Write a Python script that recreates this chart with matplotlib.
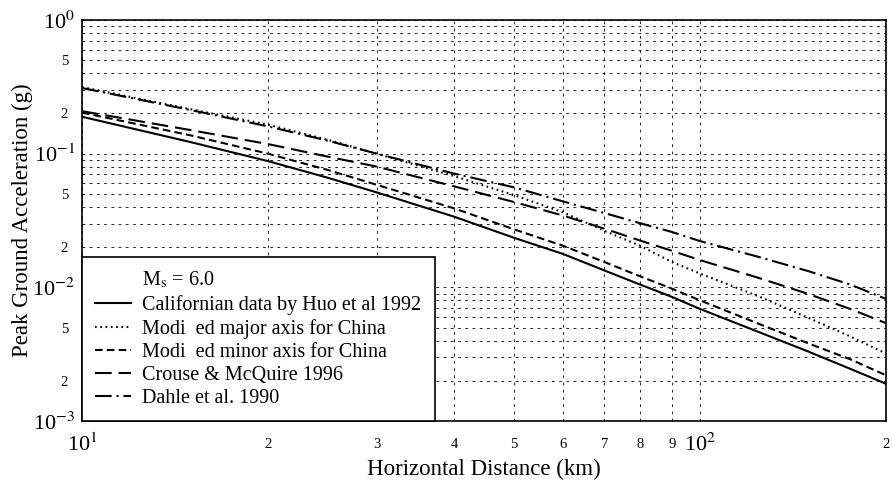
import matplotlib
matplotlib.use("Agg")
import matplotlib.pyplot as plt
from matplotlib.ticker import LogLocator, FuncFormatter
import numpy as np

plt.rcParams['font.family'] = ['Liberation Serif', 'DejaVu Serif']
plt.rcParams['mathtext.fontset'] = 'stix'
plt.rcParams['lines.scale_dashes'] = False

# distance (km)
dist = [10, 15, 20, 25, 30, 40, 50, 60, 70, 80, 90, 100, 125, 150, 175, 200]

# PGA (g)
huo_1992 = [0.189, 0.122, 0.088, 0.066, 0.0513, 0.0338, 0.0235, 0.0178, 0.0134,
            0.0105, 0.0085, 0.0069, 0.0046, 0.0033, 0.00246, 0.0019]
major_china = [0.315, 0.215, 0.165, 0.127, 0.100, 0.068, 0.049, 0.0365, 0.0265,
               0.0205, 0.0155, 0.0127, 0.0085, 0.0059, 0.0043, 0.0032]
minor_china = [0.203, 0.137, 0.100, 0.0755, 0.0585, 0.039, 0.0272, 0.0205, 0.0155,
               0.0121, 0.0098, 0.0080, 0.0053, 0.0038, 0.0029, 0.0022]
crouse_1996 = [0.208, 0.150, 0.118, 0.095, 0.080, 0.057, 0.0435, 0.0345, 0.0275,
               0.0224, 0.0188, 0.0160, 0.0117, 0.0089, 0.0069, 0.0054]
dahle_1990 = [0.31, 0.212, 0.160, 0.125, 0.100, 0.071, 0.056, 0.0440, 0.0360,
              0.0302, 0.0260, 0.0222, 0.0168, 0.0132, 0.0105, 0.0082]

fig = plt.figure(figsize=(8.92, 4.84), dpi=100)
ax = fig.add_axes([0.0919, 0.130, 0.9014, 0.8287])

lw = 1.5
ax.plot([], [], color='none', label='M$_\\mathrm{s}$ = 6.0')
ax.plot(dist, huo_1992, color='black', lw=lw, label='Californian data by Huo et al 1992')
ax.plot(dist, major_china, color='black', lw=lw, dashes=(1.2, 2.6),
        label='Modi  ed major axis for China')
ax.plot(dist, minor_china, color='black', lw=lw, dashes=(5.5, 3),
        label='Modi  ed minor axis for China')
ax.plot(dist, crouse_1996, color='black', lw=lw, dashes=(12, 5),
        label='Crouse & McQuire 1996')
ax.plot(dist, dahle_1990, color='black', lw=lw, dashes=(12, 3.5, 1.5, 3.5),
        label='Dahle et al. 1990')

ax.set_xscale('log')
ax.set_yscale('log')
ax.set_xlim(10, 200)
ax.set_ylim(1e-3, 1)

ax.xaxis.set_major_locator(LogLocator(base=10))
ax.xaxis.set_minor_locator(LogLocator(base=10, subs=np.arange(2, 10)))
ax.yaxis.set_major_locator(LogLocator(base=10))
ax.yaxis.set_minor_locator(LogLocator(base=10, subs=np.arange(2, 10)))

def major_fmt(v, pos):
    return '10$^{%d}$' % int(round(np.log10(v)))

def x_minor_fmt(v, pos):
    m = int(round(v / 10 ** np.floor(np.log10(v) + 1e-9)))
    return str(m)

def y_minor_fmt(v, pos):
    m = int(round(v / 10 ** np.floor(np.log10(v) + 1e-9)))
    return str(m) if m in (2, 5) else ''

ax.xaxis.set_major_formatter(FuncFormatter(major_fmt))
ax.yaxis.set_major_formatter(FuncFormatter(major_fmt))
ax.xaxis.set_minor_formatter(FuncFormatter(x_minor_fmt))
ax.yaxis.set_minor_formatter(FuncFormatter(y_minor_fmt))

ax.tick_params(axis='y', which='major', length=0, labelsize=16, pad=5)
ax.tick_params(axis='x', which='major', length=0, labelsize=16, pad=9)
ax.tick_params(axis='y', which='minor', length=0, labelsize=10.5, pad=10)
ax.tick_params(axis='x', which='minor', length=0, labelsize=10.5, pad=12)

ax.grid(True, which='both', color='black', lw=0.6, dashes=(2, 3.2))
for s in ax.spines.values():
    s.set_linewidth(1.2)

ax.set_xlabel('Horizontal Distance (km)', fontsize=16.5, labelpad=2)
ax.set_ylabel('Peak Ground Acceleration (g)', fontsize=16.5)
ax.yaxis.set_label_coords(-0.061, 0.5)

leg = ax.legend(loc='lower left', fontsize=14.5, frameon=True, fancybox=False,
                edgecolor='black', framealpha=1, borderaxespad=0,
                handlelength=1.8, handletextpad=0.55, labelspacing=0.2,
                borderpad=0.65)
leg.get_frame().set_linewidth(1.2)

fig.savefig('out.png', dpi=100)
